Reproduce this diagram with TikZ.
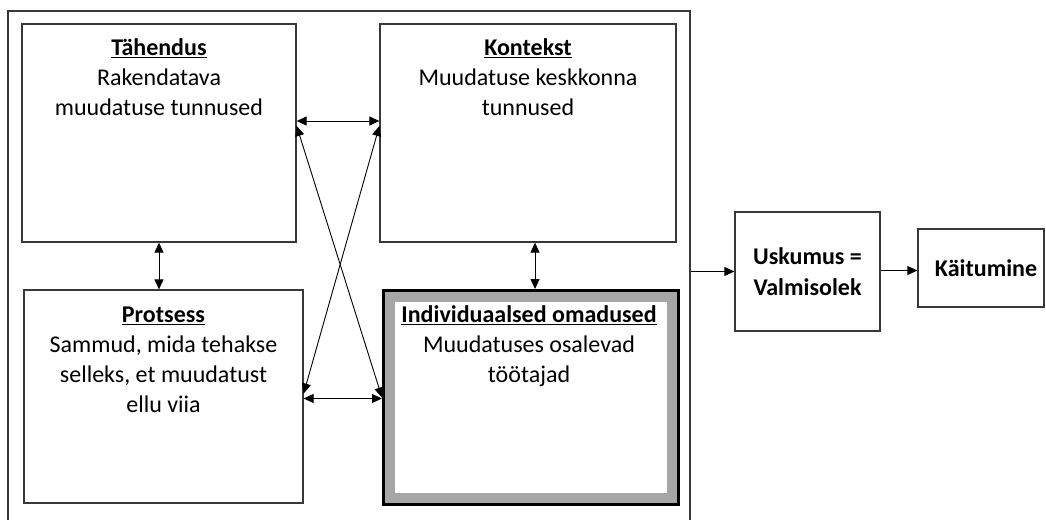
\documentclass[tikz,border=0pt]{standalone}
\usepackage{fontspec}
\setmainfont{Carlito}
\usetikzlibrary{arrows.meta,calc}
\begin{document}
\begin{tikzpicture}[x=1pt,y=-1pt,
  box/.style={draw=black!78, line width=1.3pt, inner sep=0pt},
  txt/.style={align=center, inner sep=0pt, anchor=north, font=\fontsize{24}{30}\selectfont},
  btxt/.style={align=center, font=\fontsize{24}{31}\selectfont\bfseries},
  tip/.tip={Triangle[length=10pt,width=9pt]},
  conn/.style={tip-tip, line width=0.9pt},
  oneway/.style={-tip, line width=0.9pt}]
\useasboundingbox (0,0) rectangle (1046,519);
\clip (0,0) rectangle (1046,519);
% outer frame
\node[box, minimum width=682pt, minimum height=529pt] (frame) at (349,275.5) {};
% four boxes
\node[box, minimum width=274pt, minimum height=218pt] (t) at (159,133) {};
\node[box, minimum width=296pt, minimum height=218pt] (k) at (528,133) {};
\node[box, minimum width=279pt, minimum height=213pt] (p) at (163.5,396.5) {};
\node[draw=black, line width=3pt, fill=white, inner sep=0pt, minimum width=295pt, minimum height=214pt,
  path picture={\draw[black!35, line width=23pt] (path picture bounding box.north west) rectangle (path picture bounding box.south east);}] (ind) at (531,397.5) {};
% texts
\node[txt] (tt) at (159,34) {\strut\underline{\textbf{Tähendus}}\\Rakendatava\\muudatuse tunnused};
\node[txt] (kt) at (528,34) {\strut\underline{\textbf{Kontekst}}\\Muudatuse keskkonna\\tunnused};
\node[txt] (pt) at (163.5,301.5) {\strut\underline{\textbf{Protsess}}\\Sammud, mida tehakse\\selleks, et muudatust\\ellu viia};
\node[txt] (it) at (529,301) {\strut\underline{\textbf{Individuaalsed omadused}}\\Muudatuses osalevad\\töötajad};
% right boxes
\node[box, btxt, minimum width=145pt, minimum height=119pt] (u) at (807.5,271.5) {Uskumus =\\Valmisolek};
\node[box, btxt, minimum width=126pt, minimum height=78pt] (kai) at (981,268) {\kern10pt Käitumine};
% connectors
\draw[conn] ([yshift=12pt]t.east) -- ([yshift=12pt]k.west);
\draw[conn] ([yshift=7pt]t.east) -- ([yshift=0pt]ind.west);
\draw[conn] ([yshift=7pt]k.west) -- ([yshift=3pt]p.east);
\draw[conn] ([yshift=-2pt]p.east) -- ([yshift=-2pt]p.east -| ind.west);
\draw[conn] (t.south) -- (t.south |- p.north);
\draw[conn] ([xshift=7pt]k.south) -- ([xshift=7pt]k.south |- ind.north);
\draw[oneway] (frame.east |- u.west) -- (u.west);
\draw[oneway] ([yshift=1pt]u.east) -- ([yshift=1pt]u.east -| kai.west);
\end{tikzpicture}
\end{document}
